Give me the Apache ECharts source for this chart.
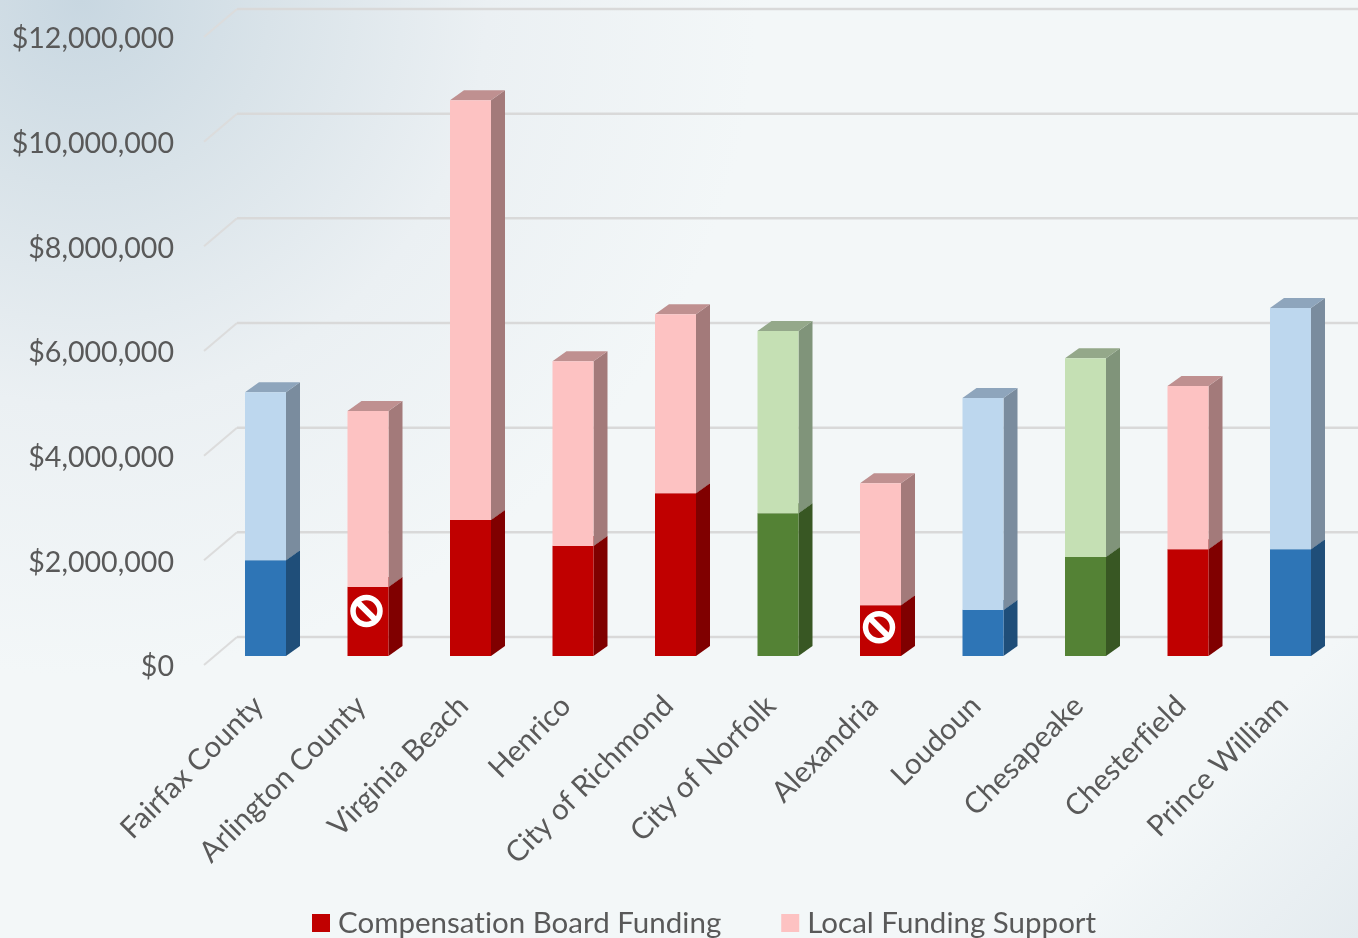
<!DOCTYPE html>
<html><head><meta charset="utf-8">
<style>html,body{margin:0;padding:0;background:#f3f7f8}#c{width:1358px;height:938px}</style>
<script src="https://cdn.jsdelivr.net/npm/echarts@6/dist/echarts.min.js"></script>
</head><body><div id="c"></div>
<script>
const categories = ['Fairfax County','Arlington County','Virginia Beach','Henrico','City of Richmond','City of Norfolk','Alexandria','Loudoun','Chesapeake','Chesterfield','Prince William'];
const compensationBoard = [1830000,1320000,2600000,2100000,3110000,2730000,970000,880000,1890000,2040000,2040000];
const localSupport = [3210000,3360000,8020000,3530000,3420000,3480000,2330000,4050000,3800000,3120000,4610000];
const groups = ['blue','red','red','red','red','green','red','blue','green','red','blue'];
const noEntryMarks = [[1,860000],[6,550000]];
const axisTicks = [0,2000000,4000000,6000000,8000000,10000000,12000000];
const palette = {
  blue:{dark:['#2e75b6','#1f4e79','#1f4e79'],light:['#bdd7ee','#7a8c9e','#8ea5bc']},
  red:{dark:['#c00000','#800000','#800000'],light:['#fdc2c2','#a37a7a','#bf9090']},
  green:{dark:['#548235','#385723','#385723'],light:['#c5e0b4','#80947a','#94a88a']}
};
const DEPTH_X = 14, DEPTH_Y = 10, WALL_X = 33, WALL_Y = 28;
const textColor = '#595959', font = 'Lato';

// Lato's ti/fi ligatures are not in the reference: a tiny letter spacing switches them off on canvas.
const nativeGetContext = HTMLCanvasElement.prototype.getContext;
HTMLCanvasElement.prototype.getContext = function(type, opts){
  const ctx = nativeGetContext.call(this, type, opts);
  if (type === '2d' && ctx && 'letterSpacing' in ctx) ctx.letterSpacing = '0.01px';
  return ctx;
};

function barRender(shade){
  return function(params, api){
    const i = api.value(0);
    const lo = api.coord([i, api.value(1)]);
    const hi = api.coord([i, api.value(2)]);
    const w = api.size([1,0])[0] * 0.4;
    const l = lo[0]-w/2, r = lo[0]+w/2;
    const c = palette[groups[i]][shade];
    const poly = (pts,color)=>({type:'polygon',shape:{points:pts},style:{fill:color}});
    return {type:'group',children:[
      poly([[r,lo[1]],[r+DEPTH_X,lo[1]-DEPTH_Y],[r+DEPTH_X,hi[1]-DEPTH_Y],[r,hi[1]]],c[1]),
      poly([[l,hi[1]],[r,hi[1]],[r+DEPTH_X,hi[1]-DEPTH_Y],[l+DEPTH_X,hi[1]-DEPTH_Y]],c[2]),
      poly([[l,lo[1]],[r,lo[1]],[r,hi[1]],[l,hi[1]]],c[0])
    ]};
  };
}
const compData = categories.map((_,i)=>[i,0,compensationBoard[i]]);
const localData = categories.map((_,i)=>[i,compensationBoard[i],compensationBoard[i]+localSupport[i]]);

const chart = echarts.init(document.getElementById('c'),null,{renderer:'canvas'});
chart.setOption({
  animation:false,
  backgroundColor:new echarts.graphic.RadialGradient(0.06,0,0.72,[
    {offset:0,color:'#c8d7e1'},{offset:0.28,color:'#d9e3e9'},{offset:0.6,color:'#ebf0f3'},{offset:1,color:'#f3f7f8'}]),
  textStyle:{fontFamily:font,color:textColor},
  graphic:[{type:'rect',left:958,top:538,z:0,silent:true,shape:{width:400,height:400},
    style:{fill:new echarts.graphic.LinearGradient(0,0,1,1,[
      {offset:0,color:'rgba(228,235,239,0)'},{offset:0.6,color:'rgba(228,235,239,0)'},{offset:1,color:'rgba(228,235,239,1)'}])}}],
  legend:{
    data:[{name:'Compensation Board Funding',itemStyle:{color:'#c00000'}},{name:'Local Funding Support',itemStyle:{color:'#fdc2c2'}}],
    left:307,top:903,itemWidth:18,itemHeight:18,itemGap:60,icon:'rect',
    textStyle:{fontFamily:font,fontSize:29.5,color:textColor,padding:[0,0,0,3]}
  },
  grid:[
    {left:214.25,top:28,width:1127.5,height:628},
    {left:204,top:37,width:33,height:628},
    {left:204,top:39,width:33,height:628}
  ],
  xAxis:[
    {type:'category',gridIndex:0,data:categories,axisLine:{show:false},axisTick:{show:false},
     axisLabel:{rotate:45,interval:0,margin:38,fontSize:29.3,fontFamily:font,color:textColor,padding:[0,10,0,0]}},
    {type:'value',gridIndex:1,show:false,min:0,max:1},
    {type:'value',gridIndex:2,show:false,min:0,max:1}
  ],
  yAxis:[
    {type:'value',gridIndex:0,show:false,min:0,max:12000000,interval:2000000},
    {type:'value',gridIndex:1,show:false,min:0,max:12000000,interval:2000000},
    {type:'value',gridIndex:2,min:0,max:12000000,interval:2000000,axisLine:{show:false},axisTick:{show:false},splitLine:{show:false},
     axisLabel:{margin:30,fontSize:28.6,fontFamily:font,color:textColor,
       formatter:v=>'$'+v.toLocaleString('en-US')}}
  ],
  series:[
    {type:'custom',name:'gridlines',xAxisIndex:1,yAxisIndex:1,silent:true,z:1,clip:false,
     data:axisTicks.map(v=>[0,v]),
     renderItem(params,api){
       const p = api.coord([0,api.value(1)]);
       return {type:'group',children:[
         {type:'line',shape:{x1:p[0],y1:p[1],x2:p[0]+WALL_X,y2:p[1]-WALL_Y},style:{stroke:'#dcdcdc',lineWidth:2}},
         {type:'line',shape:{x1:p[0]+WALL_X,y1:p[1]-WALL_Y,x2:api.getWidth(),y2:p[1]-WALL_Y},style:{stroke:'#d9d9d9',lineWidth:2.5}}
       ]};
     }},
    {type:'custom',name:'Compensation Board Funding',z:2,clip:false,xAxisIndex:0,yAxisIndex:0,
     itemStyle:{color:'#c00000'},data:compData,encode:{x:0,y:[1,2]},renderItem:barRender('dark')},
    {type:'custom',name:'Local Funding Support',z:3,clip:false,xAxisIndex:0,yAxisIndex:0,
     itemStyle:{color:'#fdc2c2'},data:localData,encode:{x:0,y:[1,2]},renderItem:barRender('light')},
    {type:'custom',name:'noEntry',z:4,clip:false,xAxisIndex:0,yAxisIndex:0,silent:true,
     data:noEntryMarks,
     renderItem(params,api){
       const p = api.coord([api.value(0),api.value(1)]);
       const cx=p[0]-1.5, cy=p[1], R=13.5, d=R*0.72;
       return {type:'group',children:[
         {type:'circle',shape:{cx,cy,r:R},style:{fill:'none',stroke:'#fff',lineWidth:5.5}},
         {type:'line',shape:{x1:cx-d,y1:cy-d,x2:cx+d,y2:cy+d},style:{stroke:'#fff',lineWidth:6}}
       ]};
     }}
  ]
});
</script></body></html>
